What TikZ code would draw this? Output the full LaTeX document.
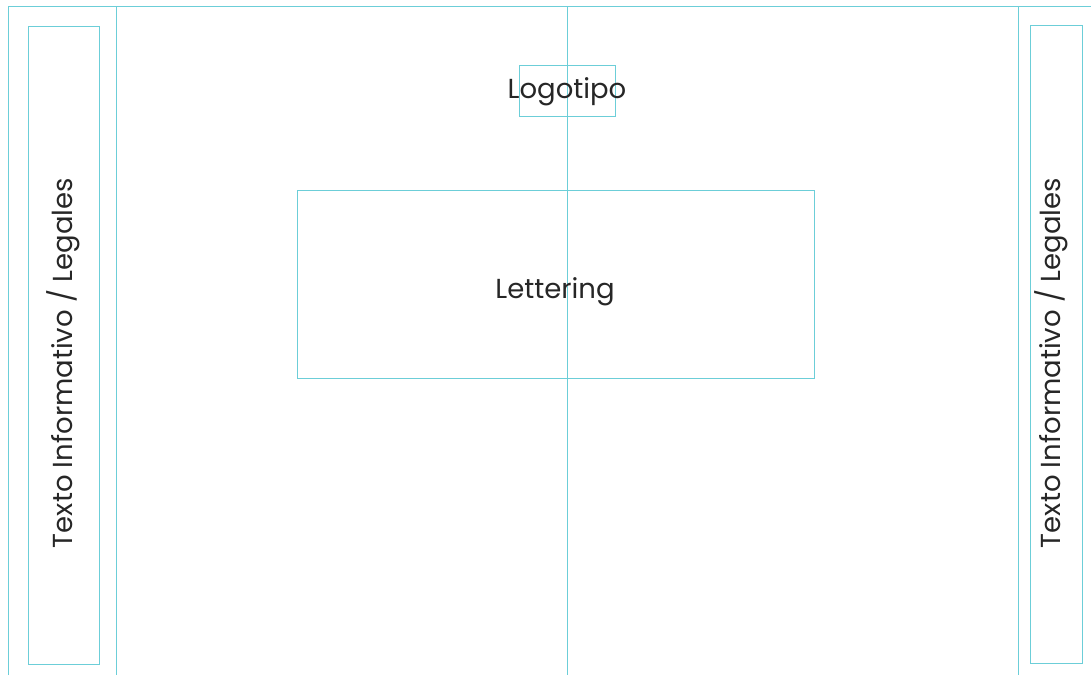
\documentclass[tikz,border=0pt]{standalone}
\usepackage{fontspec}
\setmainfont{Poppins}
\usepackage{xcolor}
\usetikzlibrary{positioning}
\definecolor{guia}{RGB}{108,206,216}

\begin{document}
\begin{tikzpicture}[x=1pt,y=-1pt,
	guia/.style={draw=guia,line width=0.8pt},
	caja/.style={guia,rectangle,inner sep=0pt},
	rotulo/.style={font=\fontsize{27.5}{32}\selectfont,text=black!85,inner sep=0pt}]
	
	\useasboundingbox (0,0) rectangle (1091,675);
	
	% Frame guides
	\coordinate (tl) at (8,6);
	\coordinate (tr) at (1091,6);
	\coordinate (bl) at (8,675);
	\draw[guia] (bl) -- (tl) -- (tr);
	\draw[guia] (116,6) -- (116,675);
	\draw[guia] (1018,6) -- (1018,675);
	
	% Side boxes
	\node[caja,minimum width=71pt,minimum height=638pt] (izq) at (63.5,345) {};
	\node[caja,minimum width=52pt,minimum height=638pt] (der) at (1056,344) {};
	
	% Logo and lettering boxes
	\node[caja,minimum width=96pt,minimum height=51pt] (logo) at (567,90.5) {};
	\node[caja,minimum width=517pt,minimum height=188pt] (letter) at (555.5,284) {};
	
	% Centre axis
	\draw[guia] (567,6) -- (567,675);
	
	% Labels
	\node[rotulo,anchor=base] (tlogo) at (567,98) {Logotipo};
	\node[rotulo,anchor=base] (tletter) at (555,298) {Lettering};
	\node[rotulo,rotate=90] (tizq) at (63,363) {Texto Informativo / Legales};
	\node[rotulo,rotate=90] (tder) at (1051,363) {Texto Informativo / Legales};
	
\end{tikzpicture}
\end{document}
